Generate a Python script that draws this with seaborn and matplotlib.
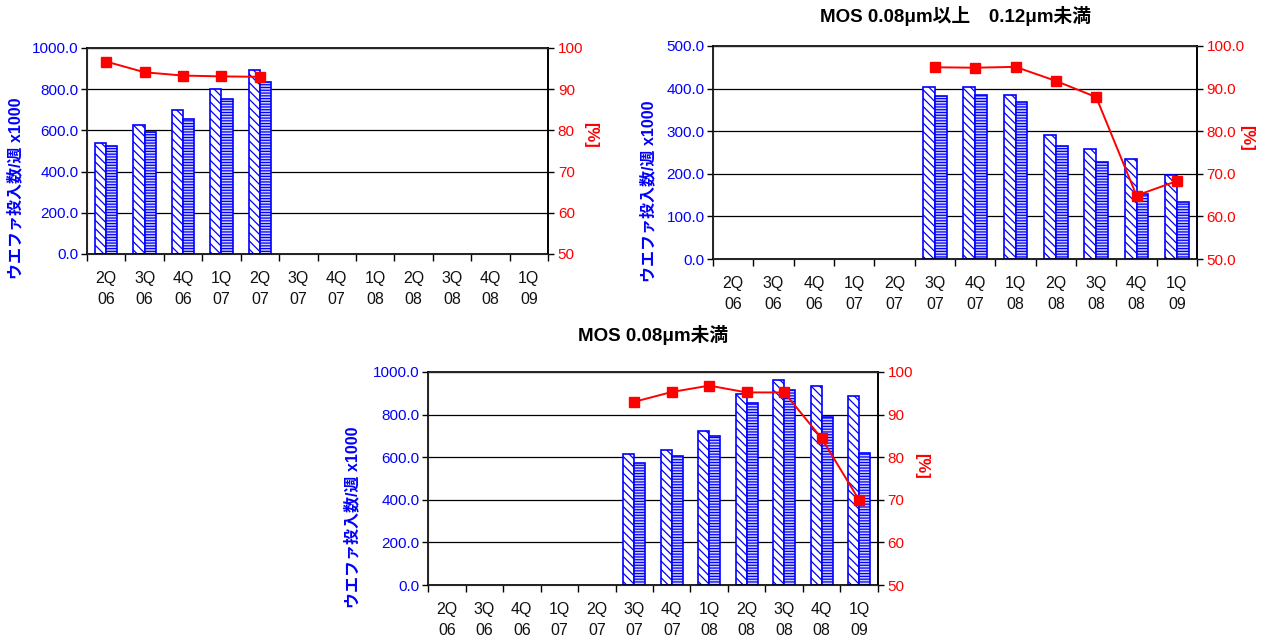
import numpy as np
import pandas as pd
import matplotlib
matplotlib.use("Agg")
import matplotlib.pyplot as plt
from matplotlib.ticker import FixedLocator, FormatStrFormatter
import seaborn as sns

##### Data

quarters = ["2Q\n06", "3Q\n06", "4Q\n06", "1Q\n07", "2Q\n07", "3Q\n07",
            "4Q\n07", "1Q\n08", "2Q\n08", "3Q\n08", "4Q\n08", "1Q\n09"]
nan = np.nan

# chart 1 (no title)
c1_capacity = [540, 626, 697, 802, 893, nan, nan, nan, nan, nan, nan, nan]
c1_input = [525, 594, 654, 751, 833, nan, nan, nan, nan, nan, nan, nan]
c1_rate = [96.7, 94.1, 93.3, 93.1, 93.0, nan, nan, nan, nan, nan, nan, nan]

# chart 2: MOS 0.08um - 0.12um
c2_capacity = [nan, nan, nan, nan, nan, 403, 404, 386, 290, 259, 235, 196]
c2_input = [nan, nan, nan, nan, nan, 383, 384, 368, 266, 227, 153, 134]
c2_rate = [nan, nan, nan, nan, nan, 95.0, 94.9, 95.1, 91.8, 88.0, 64.9, 68.3]

# chart 3: MOS < 0.08um
c3_capacity = [nan, nan, nan, nan, nan, 616, 635, 723, 897, 962, 934, 885]
c3_input = [nan, nan, nan, nan, nan, 575, 605, 700, 854, 917, 788, 619]
c3_rate = [nan, nan, nan, nan, nan, 93.0, 95.3, 96.8, 95.2, 95.2, 84.4, 69.9]

##### Style

sns.set_style("white")
plt.rcParams["font.family"] = ["Liberation Sans", "Noto Sans CJK JP", "DejaVu Sans"]
plt.rcParams["hatch.linewidth"] = 0.9
plt.rcParams["text.color"] = "black"

BLUE = "#0000ff"
RED = "#ff0000"
ylabel_text = "ウエファ投入数/週 x1000"


def draw_chart(rect, capacity, inp, rate, ymax, ystep, yfmt, rfmt, title, tpad, lcoords, rcoords):
    ax = fig.add_axes(rect)
    df = pd.DataFrame({
        "quarter": quarters * 2,
        "value": list(capacity) + list(inp),
        "series": ["capacity"] * len(quarters) + ["input"] * len(quarters),
    })
    sns.barplot(data=df, x="quarter", y="value", hue="series", order=quarters,
                hue_order=["capacity", "input"], width=0.58, gap=0, errorbar=None,
                legend=False, ax=ax)
    for bar in ax.containers[0]:
        bar.set_facecolor("white")
        bar.set_edgecolor(BLUE)
        bar.set_hatch("\\\\\\\\")
        bar.set_linewidth(1.2)
    for bar in ax.containers[1]:
        bar.set_facecolor("#d0d0ff")
        bar.set_edgecolor(BLUE)
        bar.set_hatch("------")
        bar.set_linewidth(1.2)

    ax.set_xlim(-0.5, len(quarters) - 0.5)
    ax.set_ylim(0, ymax)
    ax.set_yticks(np.arange(0, ymax + ystep / 2, ystep))
    ax.yaxis.set_major_formatter(FormatStrFormatter(yfmt))
    ax.yaxis.grid(True, color="black", linewidth=0.9)
    ax.set_axisbelow(True)
    ax.set_xlabel("")
    ax.set_ylabel(ylabel_text, color=BLUE, fontsize=11.5, fontweight="bold", va="center")
    ax.yaxis.set_label_coords(*lcoords)
    ax.tick_params(axis="y", colors=BLUE, labelsize=11, length=4, width=1,
                   direction="out", left=True, pad=2)
    ax.tick_params(axis="y", color="black")
    ax.xaxis.set_minor_locator(FixedLocator(np.arange(-0.5, len(quarters), 1.0)))
    ax.tick_params(axis="x", which="major", length=0, labelsize=11.5, pad=12.5,
                   labelcolor="#111111")
    ax.tick_params(axis="x", which="minor", length=5, width=1, color="black",
                   direction="out", bottom=True)
    for lab in ax.get_xticklabels():
        lab.set_linespacing(1.45)
    for side in ["left", "bottom", "top", "right"]:
        ax.spines[side].set_color("black")
        ax.spines[side].set_linewidth(1.2)

    ax2 = ax.twinx()
    ax2.plot(np.arange(len(quarters)), rate, color=RED, linewidth=1.4,
             marker="s", markersize=7, markerfacecolor=RED, markeredgecolor=RED)
    ax2.set_ylim(50, 100)
    ax2.set_yticks(np.arange(50, 101, 10))
    ax2.yaxis.set_major_formatter(FormatStrFormatter(rfmt))
    ax2.tick_params(axis="y", labelcolor=RED, labelsize=11, length=4, width=1,
                    color="black", direction="out", right=True, pad=3)
    ax2.set_ylabel("[%]", color=RED, fontsize=12, fontweight="bold", rotation=-90,
                   va="center")
    ax2.yaxis.set_label_coords(*rcoords)
    ax2.spines["right"].set_color("black")
    ax2.spines["right"].set_linewidth(1.2)
    ax2.grid(False)
    if title:
        ax.set_title(title, fontsize=13.5, fontweight="bold", pad=tpad, color="black")
    return ax


fig = plt.figure(figsize=(12.66, 6.43), dpi=100)

draw_chart([0.0687, 0.605, 0.3642, 0.3204], c1_capacity, c1_input, c1_rate,
           1000, 200, "%.1f", "%d", None, 0, (-0.156, 0.32), (1.093, 0.58))
draw_chart([0.5632, 0.5972, 0.3823, 0.3313], c2_capacity, c2_input, c2_rate,
           500, 100, "%.1f", "%.1f", "MOS 0.08μm以上　0.12μm未満", 17.5,
           (-0.134, 0.32), (1.103, 0.57))
draw_chart([0.3381, 0.0902, 0.3554, 0.3313], c3_capacity, c3_input, c3_rate,
           1000, 200, "%.1f", "%d", "MOS 0.08μm未満", 22,
           (-0.169, 0.32), (1.098, 0.56))

fig.savefig("out.png", dpi=100, facecolor="white")
